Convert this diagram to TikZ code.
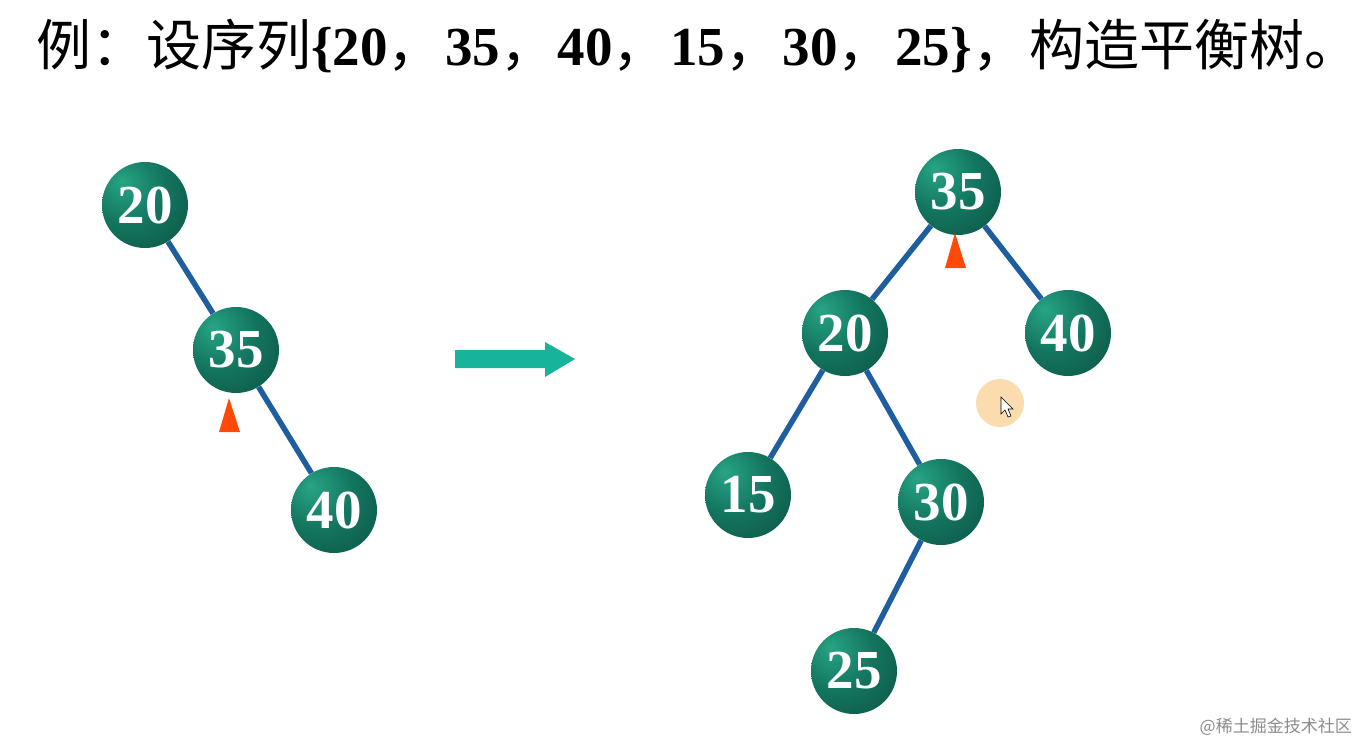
\documentclass[tikz,border=0pt]{standalone}
\usepackage{fontspec}
\setmainfont{Liberation Serif}
\newfontfamily\cjk{Noto Sans CJK SC}
\definecolor{edgeblue}{HTML}{1F5E9E}
\definecolor{ballA}{HTML}{27A585}
\definecolor{ballB}{HTML}{13745E}
\definecolor{ballC}{HTML}{0A4A3D}
\definecolor{trired}{HTML}{FF4A0A}
\definecolor{arrowteal}{HTML}{17B49A}
\definecolor{cursorbg}{HTML}{FADCAE}
\pgfdeclareradialshading{nodeball}{\pgfpoint{-14bp}{14bp}}{color(0bp)=(ballA); color(22bp)=(ballB); color(52bp)=(ballC); color(80bp)=(ballC)}
\newcommand{\tcomma}{{\cjk ，}\hspace{2.5pt}}
\begin{document}
\begin{tikzpicture}[x=1pt,y=-1pt,
  tnode/.style={circle, minimum size=86pt, inner sep=0pt, shading=nodeball, text=white,
    font=\bfseries\fontsize{55}{55}\selectfont},
  tedge/.style={draw=edgeblue, line width=5.5pt},
  tri/.style={fill=trired},
  bigarrow/.style={fill=arrowteal}]
\useasboundingbox (0,0) rectangle (1360,749);
% title
\node[anchor=base west, inner sep=0pt, font=\fontsize{55}{55}\selectfont] (title) at (36,66)
  {{\cjk 例：设序列}\textbf{\{20}\tcomma\textbf{35}\tcomma\textbf{40}\tcomma\textbf{15}\tcomma\textbf{30}\tcomma\textbf{25\}}\tcomma{\cjk 构造平衡树\makebox[0.45em][l]{。}}};
% left tree
\node[tnode] (l20) at (145,205) {20};
\node[tnode] (l35) at (236,350) {35};
\node[tnode] (l40) at (334,510) {40};
\draw[tedge] (l20) -- (l35);
\draw[tedge] (l35) -- (l40);
\fill[tri] (229,398) -- (240,432) -- (219,432) -- cycle;
% arrow
\fill[bigarrow] (455,350) -- (545,350) -- (545,342) -- (575,359) -- (545,377) -- (545,368) -- (455,368) -- cycle;
% right tree
\node[tnode] (r35) at (958,192) {35};
\node[tnode] (r20) at (845,333) {20};
\node[tnode] (r40) at (1068,333) {40};
\node[tnode] (r15) at (748,495) {15};
\node[tnode] (r30) at (941,502) {30};
\node[tnode] (r25) at (854,671) {25};
\draw[tedge] (r35) -- (r20);
\draw[tedge] (r35) -- (r40);
\draw[tedge] (r20) -- (r15);
\draw[tedge] (r20) -- (r30);
\draw[tedge] (r30) -- (r25);
\fill[tri] (955,233) -- (966,268) -- (945,268) -- cycle;
% cursor
\fill[cursorbg] (1000,403) circle (24);
\filldraw[fill=white, draw=black, line width=0.6pt] (1001,397) -- (1001,414) -- (1005,410) -- (1008,417) -- (1011,416) -- (1008,409) -- (1013,409) -- cycle;
% watermark
\node[anchor=east, inner sep=0pt, text=black!45, font=\cjk\fontsize{17}{17}\selectfont] (wm) at (1352,727) {@稀土掘金技术社区};
\end{tikzpicture}
\end{document}
